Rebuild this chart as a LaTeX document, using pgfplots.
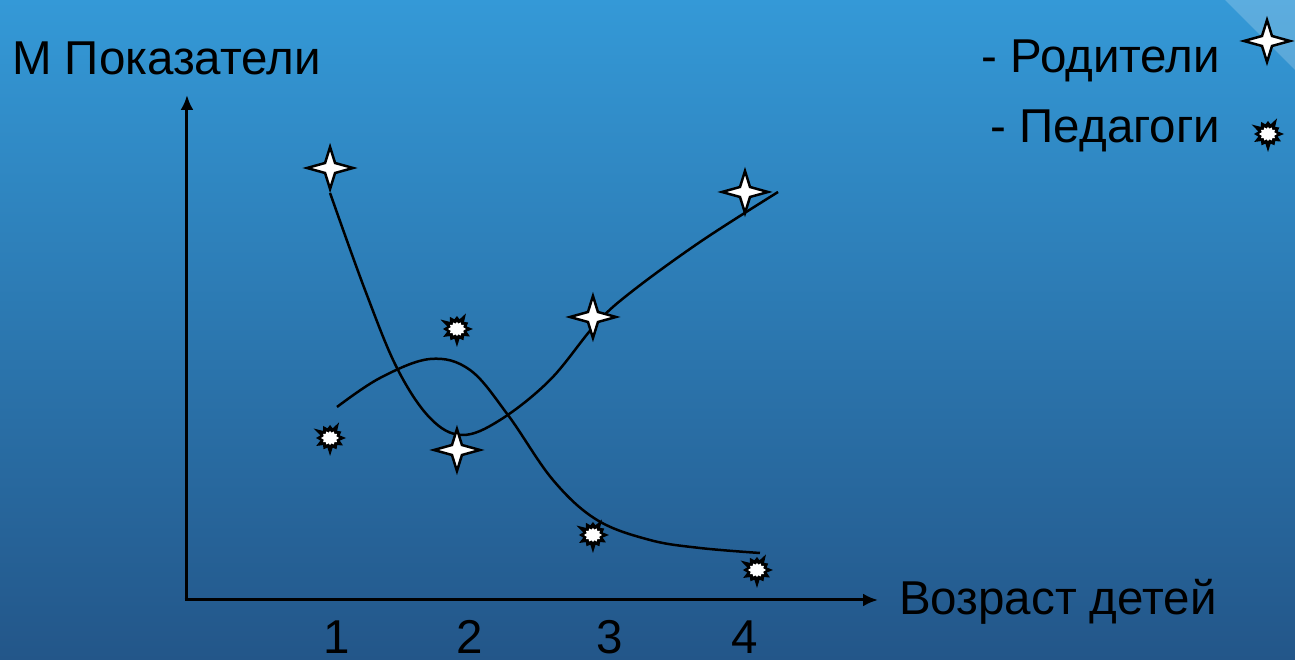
\documentclass[border=0pt]{standalone}
\usepackage{fontspec}
\setmainfont{Liberation Sans}
\usepackage{pgfplots}
\pgfplotsset{compat=1.18}
\usetikzlibrary{arrows.meta}
\definecolor{bgtop}{RGB}{52,153,215}
\definecolor{bgbot}{RGB}{35,86,137}

\pgfdeclareplotmark{fourstar}{%
  \pgfpathmoveto{\pgfqpoint{0pt}{21pt}}%
  \pgfpathlineto{\pgfqpoint{5pt}{5pt}}%
  \pgfpathlineto{\pgfqpoint{23pt}{0pt}}%
  \pgfpathlineto{\pgfqpoint{5pt}{-5pt}}%
  \pgfpathlineto{\pgfqpoint{0pt}{-21pt}}%
  \pgfpathlineto{\pgfqpoint{-5pt}{-5pt}}%
  \pgfpathlineto{\pgfqpoint{-23pt}{0pt}}%
  \pgfpathlineto{\pgfqpoint{-5pt}{5pt}}%
  \pgfpathclose
  \pgfusepathqfillstroke}

\pgfdeclareplotmark{burst}{%
  \pgfsetfillcolor{black}%
  \pgfpathmoveto{\pgfpointpolar{0}{16pt}}%
  \pgfpathlineto{\pgfpointpolar{15}{10pt}}%
  \pgfpathlineto{\pgfpointpolar{30}{13pt}}%
  \pgfpathlineto{\pgfpointpolar{45}{10pt}}%
  \pgfpathlineto{\pgfpointpolar{60}{18pt}}%
  \pgfpathlineto{\pgfpointpolar{75}{10pt}}%
  \pgfpathlineto{\pgfpointpolar{90}{13pt}}%
  \pgfpathlineto{\pgfpointpolar{105}{10pt}}%
  \pgfpathlineto{\pgfpointpolar{120}{14pt}}%
  \pgfpathlineto{\pgfpointpolar{135}{10pt}}%
  \pgfpathlineto{\pgfpointpolar{150}{19pt}}%
  \pgfpathlineto{\pgfpointpolar{165}{10pt}}%
  \pgfpathlineto{\pgfpointpolar{180}{14pt}}%
  \pgfpathlineto{\pgfpointpolar{195}{10pt}}%
  \pgfpathlineto{\pgfpointpolar{210}{16pt}}%
  \pgfpathlineto{\pgfpointpolar{225}{10pt}}%
  \pgfpathlineto{\pgfpointpolar{240}{13pt}}%
  \pgfpathlineto{\pgfpointpolar{255}{10pt}}%
  \pgfpathlineto{\pgfpointpolar{270}{18pt}}%
  \pgfpathlineto{\pgfpointpolar{285}{10pt}}%
  \pgfpathlineto{\pgfpointpolar{300}{13pt}}%
  \pgfpathlineto{\pgfpointpolar{315}{10pt}}%
  \pgfpathlineto{\pgfpointpolar{330}{15pt}}%
  \pgfpathlineto{\pgfpointpolar{345}{10pt}}%
  \pgfpathclose\pgfusepathqfill
  \pgfsetfillcolor{white}%
  \pgfpathmoveto{\pgfpointpolar{0}{9pt}}%
  \pgfpathlineto{\pgfpointpolar{15}{6.5pt}}%
  \pgfpathlineto{\pgfpointpolar{30}{8pt}}%
  \pgfpathlineto{\pgfpointpolar{45}{6pt}}%
  \pgfpathlineto{\pgfpointpolar{60}{7.5pt}}%
  \pgfpathlineto{\pgfpointpolar{75}{5.5pt}}%
  \pgfpathlineto{\pgfpointpolar{90}{7pt}}%
  \pgfpathlineto{\pgfpointpolar{105}{5.5pt}}%
  \pgfpathlineto{\pgfpointpolar{120}{7.5pt}}%
  \pgfpathlineto{\pgfpointpolar{135}{6pt}}%
  \pgfpathlineto{\pgfpointpolar{150}{8pt}}%
  \pgfpathlineto{\pgfpointpolar{165}{6.5pt}}%
  \pgfpathlineto{\pgfpointpolar{180}{9pt}}%
  \pgfpathlineto{\pgfpointpolar{195}{6.5pt}}%
  \pgfpathlineto{\pgfpointpolar{210}{8pt}}%
  \pgfpathlineto{\pgfpointpolar{225}{6pt}}%
  \pgfpathlineto{\pgfpointpolar{240}{7.5pt}}%
  \pgfpathlineto{\pgfpointpolar{255}{5.5pt}}%
  \pgfpathlineto{\pgfpointpolar{270}{7pt}}%
  \pgfpathlineto{\pgfpointpolar{285}{5.5pt}}%
  \pgfpathlineto{\pgfpointpolar{300}{7.5pt}}%
  \pgfpathlineto{\pgfpointpolar{315}{6pt}}%
  \pgfpathlineto{\pgfpointpolar{330}{8pt}}%
  \pgfpathlineto{\pgfpointpolar{345}{6.5pt}}%
  \pgfpathclose\pgfusepathqfill}

\pgfplotsset{
  rodimg/.style={legend image code/.code={\path[draw=none] (0pt,0pt) -- (60pt,0pt);
    \draw[only marks,overlay,##1] plot coordinates {(47pt,20pt)};}},
  pedimg/.style={legend image code/.code={\path[draw=none] (0pt,0pt) -- (60pt,0pt);
    \draw[only marks,overlay,##1] plot coordinates {(48pt,-3pt)};}},
}

\begin{document}
\begin{tikzpicture}
\useasboundingbox (0pt,0pt) rectangle (1295pt,660pt);
\shade[top color=bgtop, bottom color=bgbot] (0pt,0pt) rectangle (1295pt,660pt);
\fill[white,opacity=0.2] (1225pt,660pt) -- (1295pt,660pt) -- (1295pt,590pt) -- cycle;
\begin{axis}[
  at={(0pt,0pt)}, anchor=south west,
  width=1295pt, height=660pt, scale only axis,
  hide axis, clip=false,
  xmin=-1.4779, xmax=8.0441, ymin=-0.6, ymax=6.0,
  legend plot pos=right,
  legend cell align=right,
  legend style={at={(0.98842,0.94091)}, anchor=north east,
    draw=none, fill=none, inner sep=0pt, outer sep=0pt,
    row sep=26pt, column sep=0pt,
    font=\fontsize{47.5}{56}\selectfont,
    nodes={inner sep=0pt, text height=34pt, text depth=10pt}},
]
% axes
\draw[line width=3pt, -{Latex[length=15pt,width=13pt]}] (axis cs:-0.103,0) -- (axis cs:-0.103,5.05);
\draw[line width=3pt, -{Latex[length=15pt,width=13pt]}] (axis cs:-0.12,0) -- (axis cs:4.978,0);

% curves
\addplot[forget plot, black, line width=2.5pt, smooth, tension=0.6] coordinates {
 (0.949,4.07) (1.206,3.10) (1.441,2.32) (1.684,1.82) (1.919,1.65) (2.199,1.80)
 (2.566,2.20) (2.897,2.75) (3.154,3.07) (3.669,3.58) (4.243,4.08)};
\addplot[forget plot, black, line width=2.5pt, smooth, tension=0.6] coordinates {
 (1.000,1.93) (1.316,2.22) (1.684,2.41) (1.978,2.30) (2.257,1.85) (2.588,1.20)
 (2.912,0.80) (3.301,0.60) (3.669,0.52) (4.110,0.47)};

% markers
\addplot[only marks, mark=fourstar,
  mark options={draw=black, fill=white, line width=2.5pt}, rodimg]
  coordinates {(0.949,4.32) (1.882,1.50) (2.882,2.83) (4.000,4.08)};
\addlegendentry{- Родители}
\addplot[only marks, mark=burst,
  mark options={draw=none, line width=0pt}, pedimg]
  coordinates {(0.949,1.62) (1.882,2.71) (2.882,0.65) (4.088,0.30)};
\addlegendentry{- Педагоги}

% texts
\node[anchor=base west, inner sep=0pt, font=\fontsize{47.5}{56}\selectfont] at (axis cs:-1.390,5.25) {М Показатели};
\node[anchor=base west, inner sep=0pt, font=\fontsize{47.5}{56}\selectfont] at (axis cs:5.132,-0.15) {Возраст детей};
\node[anchor=base, inner sep=0pt, font=\fontsize{47.5}{56}\selectfont] at (axis cs:1,-0.54) {1};
\node[anchor=base, inner sep=0pt, font=\fontsize{47.5}{56}\selectfont] at (axis cs:1.978,-0.54) {2};
\node[anchor=base, inner sep=0pt, font=\fontsize{47.5}{56}\selectfont] at (axis cs:3.007,-0.54) {3};
\node[anchor=base, inner sep=0pt, font=\fontsize{47.5}{56}\selectfont] at (axis cs:4.0,-0.54) {4};
\end{axis}
\end{tikzpicture}
\end{document}
